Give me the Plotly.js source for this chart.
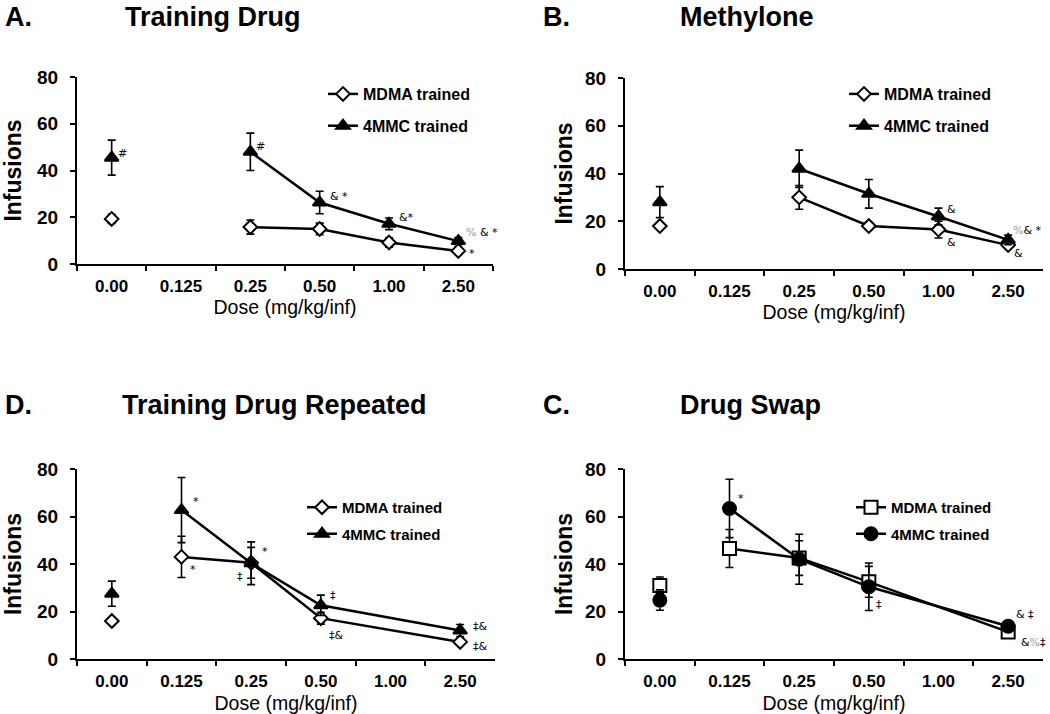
<!DOCTYPE html>
<html>
<head>
<meta charset="utf-8">
<script src="https://cdn.plot.ly/plotly-3.0.1.min.js"></script>
<style>html,body{margin:0;padding:0;background:#fff;}#chart{width:1050px;height:714px;}</style>
</head>
<body>
<div id="chart"></div>
<script>
// ---- tick labels / categories ----
const doseTicks = ['0.00', '0.125', '0.25', '0.50', '1.00', '2.50'];
const vehicleDose = ['0.00'];

// ---- Panel A: Training Drug ----
const A_doses = ['0.25', '0.50', '1.00', '2.50'];
const A_mdmaVeh = [19.3];   const A_mdmaVehErr = [2];
const A_mmcVeh = [45.5];    const A_mmcVehErr = [7.5];
const A_mdma = [15.8, 15.0, 9.2, 5.6];   const A_mdmaErr = [3, 2.5, 2, 1.5];
const A_mmc = [48, 26.3, 17.2, 9.8];     const A_mmcErr = [8, 4.8, 2.5, 1.5];

// ---- Panel B: Methylone ----
const B_doses = ['0.25', '0.50', '1.00', '2.50'];
const B_mdmaVeh = [18];     const B_mdmaVehErr = [1];
const B_mmcVeh = [28];      const B_mmcVehErr = [6.5];
const B_mdma = [30, 18, 16.5, 10];       const B_mdmaErr = [5, 1.5, 3.5, 1];
const B_mmc = [42, 31.5, 22, 12.2];      const B_mmcErr = [7.8, 6, 3.5, 2];

// ---- Panel D: Training Drug Repeated ----
const D_doses = ['0.125', '0.25', '0.50', '2.50'];
const D_mdmaVeh = [16];     const D_mdmaVehErr = [0.8];
const D_mmcVeh = [27.5];    const D_mmcVehErr = [5.3];
const D_mdma = [43, 40.5, 17.2, 7.2];    const D_mdmaErr = [8.7, 6.5, 2.5, 1.2];
const D_mmc = [62.7, 40.3, 22.6, 12];    const D_mmcErr = [13.7, 9, 4.3, 2.5];

// ---- Panel C: Drug Swap ----
const C_doses = ['0.125', '0.25', '0.50', '2.50'];
const C_mdmaVeh = [31];     const C_mdmaVehErr = [3.5];
const C_mmcVeh = [24.8];    const C_mmcVehErr = [4.3];
const C_mdma = [46.5, 42.5, 32.5, 11.4]; const C_mdmaErr = [8, 7.3, 6.5, 1.5];
const C_mmc = [63.4, 42, 30.4, 13.8];    const C_mmcErr = [12.3, 10.5, 10, 1.5];

const seriesNames = ['MDMA trained', '4MMC trained'];

// ---- styling ----
const FONT = 'Liberation Sans, Arial, sans-serif';
const BLACK = '#000';

function errSpec(arr) {
  return {type: 'data', array: arr, visible: true, color: BLACK, thickness: 1.6, width: 4};
}
function mk(symbol, size, fill) {
  return {symbol: symbol, size: size, color: fill, line: {color: BLACK, width: 2}};
}

const traces = [];
function addPanel(xa, ya, legendId, grp, doses, mdmaVeh, mdmaVehErr, mmcVeh, mmcVehErr,
                  mdma, mdmaErr, mmc, mmcErr, mdmaMarker, mmcMarker) {
  // MDMA
  traces.push({x: vehicleDose, y: mdmaVeh, error_y: errSpec(mdmaVehErr), xaxis: xa, yaxis: ya,
    mode: 'markers', marker: mdmaMarker, showlegend: false, legendgroup: grp + 'm', legend: legendId, cliponaxis: false});
  traces.push({x: doses, y: mdma, error_y: errSpec(mdmaErr), xaxis: xa, yaxis: ya, name: seriesNames[0],
    mode: 'lines+markers', line: {color: BLACK, width: 2.5}, marker: mdmaMarker,
    legendgroup: grp + 'm', legend: legendId, cliponaxis: false});
  // 4MMC
  traces.push({x: vehicleDose, y: mmcVeh, error_y: errSpec(mmcVehErr), xaxis: xa, yaxis: ya,
    mode: 'markers', marker: mmcMarker, showlegend: false, legendgroup: grp + 'c', legend: legendId, cliponaxis: false});
  traces.push({x: doses, y: mmc, error_y: errSpec(mmcErr), xaxis: xa, yaxis: ya, name: seriesNames[1],
    mode: 'lines+markers', line: {color: BLACK, width: 2.5}, marker: mmcMarker,
    legendgroup: grp + 'c', legend: legendId, cliponaxis: false});
}

const diamond = mk('diamond', 10.5, '#fff');
const triangle = mk('triangle-up', 12, BLACK);
const square = mk('square', 13, '#fff');
const circle = mk('circle', 13, BLACK);

addPanel('x', 'y', 'legend', 'A', A_doses, A_mdmaVeh, A_mdmaVehErr, A_mmcVeh, A_mmcVehErr, A_mdma, A_mdmaErr, A_mmc, A_mmcErr, diamond, triangle);
addPanel('x2', 'y2', 'legend2', 'B', B_doses, B_mdmaVeh, B_mdmaVehErr, B_mmcVeh, B_mmcVehErr, B_mdma, B_mdmaErr, B_mmc, B_mmcErr, diamond, triangle);
addPanel('x3', 'y3', 'legend3', 'D', D_doses, D_mdmaVeh, D_mdmaVehErr, D_mmcVeh, D_mmcVehErr, D_mdma, D_mdmaErr, D_mmc, D_mmcErr, diamond, triangle);
addPanel('x4', 'y4', 'legend4', 'C', C_doses, C_mdmaVeh, C_mdmaVehErr, C_mmcVeh, C_mmcVehErr, C_mdma, C_mdmaErr, C_mmc, C_mmcErr, square, circle);

// ---- significance labels ----
const GRAY = '<span style="color:#999">%</span>';
const SIGFONT = 'DejaVu Sans, Liberation Sans, sans-serif';
const annotations = [];
function sig(xa, ya, cat, y, text, dx, dy) {
  annotations.push({xref: xa, yref: ya, x: doseTicks.indexOf(cat), y: y, text: text, showarrow: false,
    xshift: dx, yshift: dy, font: {family: SIGFONT, size: 11, color: BLACK}});
}
// A
sig('x', 'y', vehicleDose[0], A_mmcVeh[0], '#', 11, 4);
sig('x', 'y', A_doses[0], A_mmc[0], '#', 10, 5);
sig('x', 'y', A_doses[1], A_mmc[1], '& *', 19, 6);
sig('x', 'y', A_doses[2], A_mmc[2], '&*', 17, 6);
sig('x', 'y', A_doses[3], A_mmc[3], GRAY + ' & *', 24, 9);
sig('x', 'y', A_doses[3], A_mdma[3], '*', 14, -3);
// B
sig('x2', 'y2', B_doses[2], B_mmc[2], '&', 13, 7);
sig('x2', 'y2', B_doses[2], B_mdma[2], '&', 13, -13);
sig('x2', 'y2', B_doses[3], B_mmc[3], GRAY + '& *', 19, 9);
sig('x2', 'y2', B_doses[3], B_mdma[3], '&', 10, -8);
// D
sig('x3', 'y3', D_doses[0], D_mmc[0], '*', 14, 9);
sig('x3', 'y3', D_doses[0], D_mdma[0], '*', 11, -13);
sig('x3', 'y3', D_doses[1], D_mmc[1], '*', 14, 12);
sig('x3', 'y3', D_doses[1], D_mdma[1], '‡', -11, -14);
sig('x3', 'y3', D_doses[2], D_mmc[2], '‡', 12, 10);
sig('x3', 'y3', D_doses[2], D_mdma[2], '‡&', 16, -17);
sig('x3', 'y3', D_doses[3], D_mmc[3], '‡&', 20, 4);
sig('x3', 'y3', D_doses[3], D_mdma[3], '‡&', 20, -5);
// C
sig('x4', 'y4', C_doses[0], C_mmc[0], '*', 11, 10);
sig('x4', 'y4', C_doses[2], C_mmc[2], '‡', 10, -18);
sig('x4', 'y4', C_doses[3], C_mmc[3], '& ‡', 17, 12);
sig('x4', 'y4', C_doses[3], C_mdma[3], '&' + GRAY + '‡', 25, -11);

// ---- panel titles ----
function ptitle(x, y, text) {
  annotations.push({xref: 'paper', yref: 'paper', x: x / 1050, y: 1 - y / 714, xanchor: 'left', yanchor: 'top',
    text: '<b>' + text + '</b>', showarrow: false, font: {family: FONT, size: 27, color: BLACK}});
}
ptitle(3, 0, 'A.'); ptitle(123, 0, 'Training Drug');
ptitle(541, 0, 'B.'); ptitle(678, 0, 'Methylone');
ptitle(3, 388, 'D.'); ptitle(120, 388, 'Training Drug Repeated');
ptitle(541, 388, 'C.'); ptitle(678, 388, 'Drug Swap');

// ---- axes ----
function xaxis(domain, anchor, standoff) {
  return {domain: domain, anchor: anchor, type: 'category', categoryorder: 'array', categoryarray: doseTicks,
    tickvals: doseTicks, ticktext: doseTicks,
    range: [-0.5, 5.5], tickson: 'boundaries', ticks: 'outside', ticklen: 5, tickwidth: 2, tickcolor: BLACK,
    showline: true, linewidth: 2, linecolor: BLACK, showgrid: false, zeroline: false, automargin: false,
    tickfont: {family: FONT, size: 17, color: BLACK, weight: 'bold'}, ticklabelstandoff: 6,
    title: {text: 'Dose (mg/kg/inf)', standoff: standoff, font: {family: FONT, size: 19.5, color: BLACK}}};
}
function yaxis(domain, anchor, standoff) {
  return {domain: domain, anchor: anchor, range: [0, 80], tickvals: [0, 20, 40, 60, 80],
    ticks: 'outside', ticklen: 5, tickwidth: 2, tickcolor: BLACK,
    showline: true, linewidth: 2, linecolor: BLACK, showgrid: false, zeroline: false, automargin: false,
    tickfont: {family: FONT, size: 19, color: BLACK, weight: 'bold'}, ticklabelstandoff: 8,
    title: {text: '<b>Infusions</b>', standoff: standoff, font: {family: FONT, size: 23, color: BLACK}}};
}
function legend(x, y, size, gap) {
  return {x: x / 1050, y: 1 - y / 714, xanchor: 'left', yanchor: 'top', bgcolor: 'rgba(0,0,0,0)',
    borderwidth: 0, tracegroupgap: gap, traceorder: 'grouped',
    font: {family: FONT, size: size, color: BLACK, weight: 'bold'}};
}

const layout = {
  width: 1050, height: 714, margin: {l: 0, r: 0, t: 0, b: 0},
  paper_bgcolor: '#fff', plot_bgcolor: '#fff', showlegend: true,
  font: {family: FONT, color: BLACK},
  xaxis: xaxis([77 / 1050, 493 / 1050], 'y', 3),
  yaxis: yaxis([1 - 264 / 714, 1 - 77 / 714], 'x', 24),
  xaxis2: xaxis([625 / 1050, 1043 / 1050], 'y2', 3),
  yaxis2: yaxis([1 - 269 / 714, 1 - 78 / 714], 'x2', 6),
  xaxis3: xaxis([77 / 1050, 495 / 1050], 'y3', 6),
  yaxis3: yaxis([1 - 659 / 714, 1 - 469 / 714], 'x3', 24),
  xaxis4: xaxis([625 / 1050, 1043 / 1050], 'y4', 6),
  yaxis4: yaxis([1 - 659 / 714, 1 - 469 / 714], 'x4', 6),
  legend: legend(323, 77, 16, 8),
  legend2: legend(844, 77, 16, 8),
  legend3: legend(302, 491, 15, 4),
  legend4: legend(851, 491, 15, 4),
  annotations: annotations
};

Plotly.newPlot('chart', traces, layout, {staticPlot: true, displayModeBar: false});
</script>
</body>
</html>
